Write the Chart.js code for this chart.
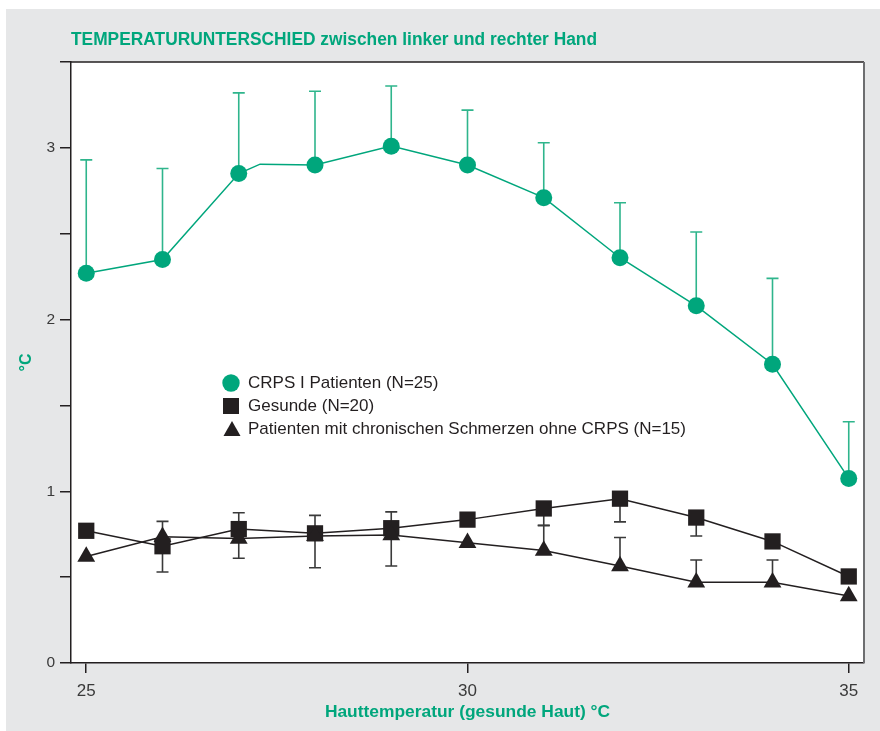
<!DOCTYPE html>
<html>
<head>
<meta charset="utf-8">
<script src="https://cdn.jsdelivr.net/npm/chart.js@4.4.1/dist/chart.umd.min.js"></script>
<style>
  html, body { margin: 0; padding: 0; background: #fff; }
  #wrap { width: 880px; height: 731px; }
</style>
</head>
<body>
<div id="wrap"><canvas id="tempChart" width="880" height="731"></canvas></div>
<script>
// Hauttemperatur (gesunde Haut) in °C
var skinTemps = [25, 26, 27, 28, 29, 30, 31, 32, 33, 34, 35];

// CRPS I Patienten, mean difference and upper error
var crpsValues = [2.27, 2.35, 2.85, 2.90, 3.01, 2.90, 2.71, 2.36, 2.08, 1.74, 1.075];
var crpsErrUp = [0.66, 0.53, 0.47, 0.43, 0.35, 0.32, 0.32, 0.32, 0.43, 0.50, 0.33];
// the original curve has one unmarked vertex between 27 and 28
var crpsKinkX = 27.28;
var crpsKinkY = 2.905;

// Gesunde, mean difference and lower error
var healthyValues = [0.77, 0.68, 0.78, 0.755, 0.785, 0.835, 0.90, 0.957, 0.847, 0.708, 0.504];
var healthyErrDown = [null, 0.15, 0.17, 0.20, 0.22, null, 0.10, 0.135, 0.107, null, null];

// Patienten mit chronischen Schmerzen ohne CRPS, mean difference and upper error
var painValues = [0.62, 0.735, 0.725, 0.74, 0.745, 0.70, 0.655, 0.565, 0.47, 0.47, 0.39];
var painErrUp = [null, 0.09, 0.15, 0.12, 0.135, null, 0.147, 0.166, 0.13, 0.13, null];

var xTicks = [25, 30, 35];
var yTicks = [0, 0.5, 1, 1.5, 2, 2.5, 3, 3.5];

var GREEN = '#00a67c';
var BLACK = '#231f20';

function toPoints(xs, ys) {
  return xs.map(function (x, i) { return { x: x, y: ys[i] }; });
}

var crpsPoints = toPoints(skinTemps, crpsValues);
crpsPoints.splice(3, 0, { x: crpsKinkX, y: crpsKinkY, hidden: true });

var errorBars = {
  id: 'errorBars',
  beforeDatasetsDraw: function (chart) {
    var ctx = chart.ctx;
    var xs = chart.scales.x, ys = chart.scales.y;
    chart.data.datasets.forEach(function (ds) {
      if (!ds.errors) return;
      ctx.save();
      ctx.strokeStyle = ds.errorColor;
      ctx.lineWidth = 1.6;
      skinTemps.forEach(function (t, i) {
        var e = ds.errors[i];
        if (e === null || e === undefined) return;
        var v = ds.values[i];
        var end = ds.errorDir === 'up' ? v + e : v - e;
        var px = xs.getPixelForValue(t);
        var py0 = ys.getPixelForValue(v);
        var py1 = ys.getPixelForValue(end);
        ctx.beginPath();
        ctx.moveTo(px, py0);
        ctx.lineTo(px, py1);
        ctx.moveTo(px - 6, py1);
        ctx.lineTo(px + 6, py1);
        ctx.stroke();
      });
      ctx.restore();
    });
  }
};

var frame = {
  id: 'frame',
  beforeDraw: function (chart) {
    var ctx = chart.ctx, a = chart.chartArea;
    ctx.save();
    ctx.fillStyle = '#ffffff';
    ctx.fillRect(0, 0, chart.width, chart.height);
    ctx.fillStyle = '#e6e7e8';
    ctx.fillRect(6, 9, chart.width - 6, chart.height - 9);
    ctx.fillStyle = '#ffffff';
    ctx.fillRect(a.left, a.top, a.right - a.left, a.bottom - a.top);
    ctx.restore();
  },
  afterDraw: function (chart) {
    var ctx = chart.ctx, a = chart.chartArea;
    ctx.save();
    ctx.lineWidth = 1.5;
    ctx.strokeStyle = BLACK;
    ctx.beginPath();
    ctx.moveTo(a.left, a.top);
    ctx.lineTo(a.right, a.top);
    ctx.stroke();
    ctx.strokeStyle = '#6d6e70';
    ctx.lineWidth = 2;
    ctx.beginPath();
    ctx.moveTo(a.right, a.top);
    ctx.lineTo(a.right, a.bottom);
    ctx.stroke();

    // title
    var title = 'TEMPERATURUNTERSCHIED zwischen linker und rechter Hand';
    ctx.font = 'bold 18px "Liberation Sans", Arial, sans-serif';
    var w = ctx.measureText(title).width;
    ctx.fillStyle = GREEN;
    ctx.textBaseline = 'alphabetic';
    ctx.translate(71, 44.5);
    ctx.scale(526 / w, 1);
    ctx.fillText(title, 0, 0);
    ctx.restore();

    // legend
    ctx.save();
    var rows = [
      { text: 'CRPS I Patienten (N=25)', shape: 'circle', color: GREEN, y: 383 },
      { text: 'Gesunde (N=20)', shape: 'rect', color: BLACK, y: 406 },
      { text: 'Patienten mit chronischen Schmerzen ohne CRPS (N=15)', shape: 'triangle', color: BLACK, y: 429 }
    ];
    ctx.font = '17px "Liberation Sans", Arial, sans-serif';
    ctx.textBaseline = 'middle';
    rows.forEach(function (r) {
      var cx = 231;
      ctx.fillStyle = r.color;
      ctx.beginPath();
      if (r.shape === 'circle') {
        ctx.arc(cx, r.y, 8.7, 0, Math.PI * 2);
      } else if (r.shape === 'rect') {
        ctx.rect(cx - 8, r.y - 8, 16, 16);
      } else {
        ctx.moveTo(cx + 1, r.y - 8);
        ctx.lineTo(cx + 9.5, r.y + 7);
        ctx.lineTo(cx - 7.5, r.y + 7);
        ctx.closePath();
      }
      ctx.fill();
      ctx.fillStyle = BLACK;
      ctx.fillText(r.text, 248, r.y + 0.5);
    });
    ctx.restore();
  }
};

new Chart(document.getElementById('tempChart'), {
  type: 'line',
  data: {
    datasets: [
      {
        label: 'Patienten mit chronischen Schmerzen ohne CRPS (N=15)',
        data: toPoints(skinTemps, painValues),
        values: painValues, errors: painErrUp, errorDir: 'up', errorColor: '#3a3a3a',
        borderColor: BLACK, borderWidth: 1.5,
        pointStyle: 'triangle', pointRadius: 10.3, pointBackgroundColor: BLACK, pointBorderWidth: 0
      },
      {
        label: 'Gesunde (N=20)',
        data: toPoints(skinTemps, healthyValues),
        values: healthyValues, errors: healthyErrDown, errorDir: 'down', errorColor: '#3a3a3a',
        borderColor: BLACK, borderWidth: 1.5,
        pointStyle: 'rect', pointRadius: 11.5, pointBackgroundColor: BLACK, pointBorderWidth: 0
      },
      {
        label: 'CRPS I Patienten (N=25)',
        data: crpsPoints,
        values: crpsValues, errors: crpsErrUp, errorDir: 'up', errorColor: '#2fb58c',
        borderColor: GREEN, borderWidth: 1.5,
        pointStyle: 'circle',
        pointRadius: function (c) { return c.raw && c.raw.hidden ? 0 : 8.5; },
        pointBackgroundColor: GREEN, pointBorderWidth: 0
      }
    ]
  },
  options: {
    responsive: false,
    animation: false,
    layout: { padding: { top: 62, right: 16, left: 0, bottom: 0 } },
    plugins: {
      legend: { display: false },
      tooltip: { enabled: false },
      title: { display: false }
    },
    scales: {
      x: {
        type: 'linear',
        min: 24.8,
        max: 35.2,
        afterFit: function (s) { s.height = 68; },
        afterBuildTicks: function (s) { s.ticks = xTicks.map(function (v) { return { value: v }; }); },
        grid: { drawOnChartArea: false, drawTicks: true, tickLength: 10, color: BLACK, lineWidth: 1.5 },
        border: { display: true, color: BLACK, width: 1.5 },
        ticks: { color: '#3a3a3a', font: { size: 17, family: '"Liberation Sans", Arial, sans-serif' }, padding: 8 },
        title: {
          display: true,
          text: 'Hauttemperatur (gesunde Haut) °C',
          color: GREEN,
          font: { size: 17.4, weight: 'bold', family: '"Liberation Sans", Arial, sans-serif' },
          padding: { top: 0, bottom: 8.6 }
        }
      },
      y: {
        min: 0,
        max: 3.5,
        afterFit: function (s) { s.width = 71; },
        afterBuildTicks: function (s) { s.ticks = yTicks.map(function (v) { return { value: v }; }); },
        grid: { drawOnChartArea: false, drawTicks: true, tickLength: 11, color: BLACK, lineWidth: 1.5 },
        border: { display: true, color: BLACK, width: 1.5 },
        ticks: {
          color: '#3a3a3a',
          font: { size: 15.5, family: '"Liberation Sans", Arial, sans-serif' },
          padding: 5,
          callback: function (v) { return v % 1 === 0 ? String(v) : ''; }
        },
        title: {
          display: true,
          text: '°C',
          color: GREEN,
          font: { size: 16, weight: 'bold', family: '"Liberation Sans", Arial, sans-serif' },
          padding: { top: 17, bottom: 0 }
        }
      }
    }
  },
  plugins: [frame, errorBars]
});
</script>
</body>
</html>
